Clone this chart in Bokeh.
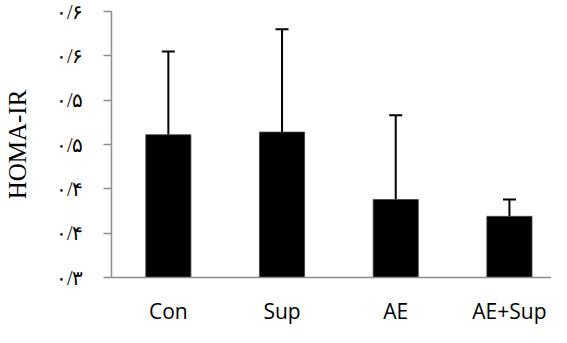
from bokeh.plotting import figure
from bokeh.models import ColumnDataSource, Range1d, FixedTicker, Whisker, TeeHead
from bokeh.embed import file_html
from bokeh.resources import INLINE

categories = ["Con", "Sup", "AE", "AE+Sup"]
means = [0.461, 0.464, 0.388, 0.369]
errors = [0.094, 0.116, 0.095, 0.019]
y_ticks = [0.30, 0.35, 0.40, 0.45, 0.50, 0.55, 0.60]
y_tick_labels = ["۰/۳", "۰/۴", "۰/۴", "۰/۵", "۰/۵", "۰/۶", "۰/۶"]

xs = [i + 0.5 for i in range(len(categories))]
src = ColumnDataSource(dict(
    x=xs, top=means,
    upper=[m + e for m, e in zip(means, errors)],
))

p = figure(width=551, height=327, output_backend="svg", toolbar_location=None,
           x_range=Range1d(0, 3.87), y_range=Range1d(0.30, 0.60),
           min_border_left=102, min_border_right=0, min_border_top=11, min_border_bottom=41)
p.outline_line_color = None
p.grid.visible = False
p.background_fill_color = "white"
p.border_fill_color = "white"

p.vbar(x="x", top="top", bottom=0.30, width=0.397, source=src,
       fill_color="black", line_color="#444444", line_width=0.8)

w = Whisker(base="x", lower="top", upper="upper", source=src,
            line_color="black", line_width=2,
            upper_head=TeeHead(size=13, line_color="black", line_width=2),
            lower_head=None)
p.add_layout(w)

# y axis
p.yaxis.ticker = FixedTicker(ticks=y_ticks)
p.yaxis.major_label_overrides = {t: l for t, l in zip(y_ticks, y_tick_labels)}
p.yaxis.axis_line_color = "#8c8c8c"
p.yaxis.axis_line_width = 1.5
p.yaxis.major_tick_line_color = "#8c8c8c"
p.yaxis.major_tick_line_width = 1.5
p.yaxis.major_tick_out = 8
p.yaxis.major_tick_in = 0
p.yaxis.minor_tick_line_color = None
p.yaxis.major_label_text_font = "Liberation Serif"
p.yaxis.major_label_text_font_size = "20px"
p.yaxis.major_label_text_color = "black"
p.yaxis.major_label_standoff = 20
p.yaxis.axis_label = "HOMA-IR"
p.yaxis.axis_label_text_font = "Liberation Serif"
p.yaxis.axis_label_text_font_size = "25px"
p.yaxis.axis_label_text_font_style = "normal"
p.yaxis.axis_label_text_color = "black"
p.yaxis.axis_label_standoff = 22

# x axis
p.xaxis.ticker = FixedTicker(ticks=xs)
p.xaxis.major_label_overrides = {x: c for x, c in zip(xs, categories)}
p.xaxis.axis_line_color = "#8c8c8c"
p.xaxis.axis_line_width = 1.5
p.xaxis.major_tick_line_color = None
p.xaxis.minor_tick_line_color = None
p.xaxis.major_label_text_font = "Open Sans"
p.xaxis.major_label_text_font_size = "21px"
p.xaxis.major_label_text_color = "black"
p.xaxis.major_label_standoff = 13

open("out.html", "w").write(file_html(p, INLINE))
